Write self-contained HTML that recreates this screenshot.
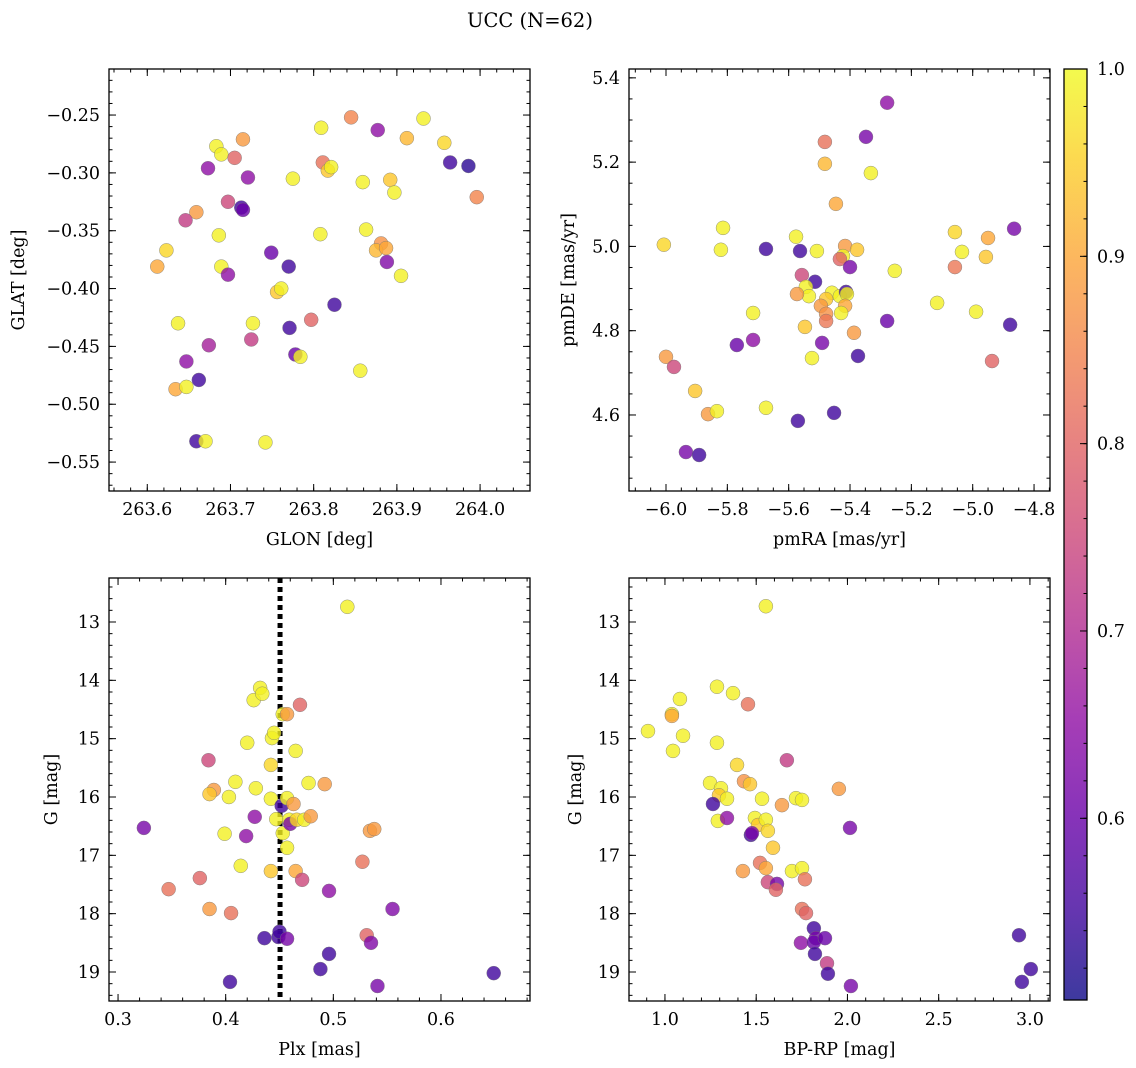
<!DOCTYPE html>
<html><head><meta charset="utf-8"><style>
html,body{margin:0;padding:0;background:#fff;}
svg{display:block;font-family:"DejaVu Serif","Liberation Serif",serif;}
</style></head><body>
<svg id="fig" width="1136" height="1068" xmlns="http://www.w3.org/2000/svg">
<text x="530" y="27" font-size="19.5" text-anchor="middle">UCC (N=62)</text>
</svg>
<script>
// Panel 1: GLON vs GLAT
const p1Lon=[263.845,263.809,263.877,263.912,263.932,263.957,263.964,263.986,263.996,263.683,263.689,263.715,263.705,263.673,263.721,263.713,263.715,263.697,263.659,263.646,263.686,263.623,263.612,263.689,263.697,263.811,263.817,263.821,263.775,263.859,263.892,263.897,263.808,263.863,263.881,263.875,263.887,263.888,263.905,263.749,263.770,263.756,263.761,263.825,263.797,263.637,263.727,263.771,263.725,263.674,263.778,263.784,263.647,263.856,263.662,263.634,263.647,263.659,263.670,263.742];
const p1Lat=[-0.252,-0.261,-0.263,-0.270,-0.253,-0.274,-0.291,-0.294,-0.321,-0.277,-0.284,-0.271,-0.287,-0.296,-0.304,-0.330,-0.332,-0.325,-0.334,-0.341,-0.354,-0.367,-0.381,-0.381,-0.388,-0.291,-0.298,-0.295,-0.305,-0.308,-0.306,-0.317,-0.353,-0.349,-0.361,-0.367,-0.365,-0.377,-0.389,-0.369,-0.381,-0.403,-0.400,-0.414,-0.427,-0.430,-0.430,-0.434,-0.444,-0.449,-0.457,-0.459,-0.463,-0.471,-0.479,-0.487,-0.485,-0.532,-0.532,-0.533];
const p1Prob=[0.85,0.99,0.65,0.92,0.99,0.96,0.55,0.53,0.85,0.99,0.99,0.88,0.8,0.65,0.65,0.55,0.6,0.75,0.88,0.73,0.99,0.96,0.9,0.99,0.65,0.82,0.94,0.99,0.99,0.99,0.94,0.99,0.99,0.99,0.87,0.92,0.9,0.63,0.99,0.6,0.55,0.94,0.99,0.55,0.8,0.99,0.99,0.55,0.73,0.68,0.6,0.99,0.65,0.99,0.55,0.9,0.99,0.55,0.99,0.99];
// Panel 2: pmRA vs pmDE
const p2RA=[-5.279,-5.348,-5.482,-5.482,-5.332,-5.446,-6.007,-5.814,-5.821,-5.674,-5.576,-5.563,-5.508,-5.416,-5.377,-5.423,-5.433,-5.400,-5.058,-4.950,-5.035,-4.957,-5.058,-4.865,-5.254,-5.557,-5.514,-5.544,-5.534,-5.573,-5.459,-5.433,-5.413,-5.410,-5.478,-5.495,-5.416,-5.478,-5.478,-5.429,-5.716,-5.716,-5.769,-5.547,-5.491,-5.524,-5.387,-5.374,-5.279,-5.116,-4.989,-4.878,-4.937,-6.000,-5.974,-5.905,-5.863,-5.834,-5.674,-5.452,-5.570,-5.935,-5.892];
const p2DE=[5.341,5.260,5.248,5.196,5.174,5.101,5.004,5.044,4.992,4.994,5.023,4.989,4.989,5.001,4.992,4.977,4.970,4.951,5.034,5.020,4.987,4.975,4.951,5.042,4.942,4.932,4.916,4.904,4.882,4.887,4.890,4.882,4.892,4.887,4.875,4.859,4.859,4.840,4.823,4.842,4.842,4.778,4.766,4.809,4.771,4.735,4.795,4.740,4.823,4.866,4.845,4.814,4.728,4.738,4.714,4.657,4.602,4.609,4.617,4.605,4.586,4.512,4.505];
const p2Prob=[0.65,0.62,0.82,0.92,0.99,0.9,0.96,0.99,0.99,0.55,0.99,0.55,0.99,0.88,0.94,0.99,0.8,0.62,0.96,0.9,0.99,0.94,0.83,0.62,0.99,0.75,0.55,0.99,0.99,0.88,0.99,0.99,0.55,0.99,0.94,0.88,0.9,0.87,0.83,0.99,0.99,0.65,0.6,0.94,0.62,0.99,0.88,0.55,0.6,0.99,0.99,0.55,0.8,0.88,0.75,0.94,0.88,0.99,0.99,0.55,0.55,0.62,0.55];
// Panel 3: Plx vs G
const p3Plx=[0.513,0.324,0.347,0.376,0.384,0.389,0.385,0.385,0.405,0.399,0.403,0.409,0.404,0.414,0.420,0.419,0.427,0.428,0.426,0.432,0.434,0.436,0.442,0.443,0.445,0.442,0.447,0.442,0.449,0.450,0.452,0.453,0.453,0.457,0.457,0.457,0.457,0.459,0.460,0.463,0.469,0.465,0.466,0.465,0.471,0.473,0.477,0.479,0.492,0.496,0.488,0.496,0.527,0.531,0.535,0.541,0.534,0.538,0.555,0.649];
const p3G=[12.74,16.53,17.58,17.39,15.37,15.88,15.95,17.92,17.99,16.63,16.00,15.74,19.17,17.18,15.07,16.67,16.34,15.85,14.34,14.13,14.23,18.42,15.45,14.99,14.90,16.03,16.38,17.27,18.40,18.31,16.15,14.58,16.62,14.58,16.02,16.87,18.43,16.39,16.46,16.12,14.42,15.21,16.39,17.27,17.42,16.39,15.76,16.33,15.78,17.61,18.95,18.69,17.11,18.37,18.50,19.24,16.58,16.55,17.92,19.02];
const p3Prob=[0.99,0.62,0.82,0.8,0.75,0.88,0.94,0.88,0.82,0.99,0.99,0.99,0.55,0.99,0.99,0.65,0.65,0.99,0.99,0.99,0.99,0.55,0.96,0.99,0.99,0.99,0.99,0.94,0.55,0.55,0.55,0.99,0.99,0.88,0.99,0.99,0.62,0.99,0.62,0.88,0.8,0.99,0.96,0.9,0.75,0.99,0.99,0.88,0.88,0.65,0.55,0.55,0.82,0.8,0.63,0.62,0.88,0.88,0.63,0.55];
const plxLine=0.4505;
// Panel 4: BP-RP vs G
const p4Col=[1.553,0.907,1.038,1.082,1.044,1.099,1.038,1.285,1.373,1.285,1.455,1.395,1.433,1.466,1.247,1.307,1.296,1.340,1.263,1.290,1.340,1.532,1.493,1.510,1.553,1.564,1.471,1.477,1.641,1.592,1.521,1.427,1.553,1.696,1.751,1.564,1.614,1.608,1.767,1.718,1.751,1.668,1.953,2.014,1.751,1.773,1.745,1.816,1.827,1.816,1.877,1.822,1.888,1.893,2.019,2.940,3.005,2.956];
const p4G=[12.73,14.87,14.58,14.32,15.21,14.95,14.61,14.11,14.22,15.07,14.41,15.45,15.73,15.78,15.76,15.85,15.97,16.03,16.12,16.41,16.36,16.03,16.36,16.48,16.39,16.58,16.65,16.62,16.14,16.87,17.13,17.27,17.22,17.27,17.22,17.46,17.49,17.59,17.41,16.02,16.05,15.37,15.86,16.53,17.92,17.99,18.50,18.25,18.42,18.49,18.42,18.69,18.85,19.03,19.24,18.37,18.95,19.17];
const p4Prob=[0.99,0.99,0.99,0.99,0.99,0.99,0.9,0.99,0.99,0.99,0.82,0.96,0.87,0.94,0.99,0.99,0.94,0.99,0.55,0.99,0.65,0.99,0.99,0.94,0.99,0.96,0.55,0.62,0.88,0.94,0.82,0.88,0.9,0.99,0.99,0.75,0.62,0.8,0.82,0.99,0.99,0.73,0.88,0.62,0.82,0.8,0.65,0.55,0.62,0.6,0.6,0.55,0.73,0.55,0.62,0.55,0.55,0.55];
const cbTicks=[0.6,0.7,0.8,0.9,1.0];

const NS="http://www.w3.org/2000/svg";
const svg=document.getElementById('fig');
const PL=["#0d0887","#41049d","#6a00a8","#8f0da4","#b12a90","#cc4778","#e16462","#f2844b","#fca636","#fcce25","#f0f921"];
const VMIN=0.503,VMAX=1.0;
function hex(h){return [1,3,5].map(i=>parseInt(h.substr(i,2),16));}
function plasma(t){t=Math.max(0,Math.min(1,t));const f=t*10,i=Math.min(9,Math.floor(f)),r=f-i;const a=hex(PL[i]),b=hex(PL[i+1]);return 'rgb('+a.map((v,k)=>Math.round(v+(b[k]-v)*r)).join(',')+')';}
function cmap(p){return plasma((p-VMIN)/(VMAX-VMIN));}
function mk(tag,attrs,parent){const e=document.createElementNS(NS,tag);for(const k in attrs)e.setAttribute(k,attrs[k]);(parent||svg).appendChild(e);return e;}
function fmt(v,d){let s=v.toFixed(d);return s.replace('-','\u2212');}
const FS=17.5;

function panel(o){
  const g=mk('g',{});
  
  
  const X=v=>o.x0+(v-o.xl[0])/(o.xl[1]-o.xl[0])*o.w;
  const Y=v=>o.y0+(v-o.yl[0])/(o.yl[1]-o.yl[0])*o.h;
  const ticks=(lo,hi,step)=>{const a=[];const s=Math.ceil(Math.min(lo,hi)/step-1e-6);for(let k=s;k*step<=Math.max(lo,hi)+1e-9;k++)a.push(+(k*step).toFixed(6));return a;};
  const tg=mk('g',{stroke:'#000','stroke-width':1},g);
  
  
  const xmaj=ticks(o.xl[0],o.xl[1],o.xs), xmin=ticks(o.xl[0],o.xl[1],o.xs/o.xd);
  const ymaj=ticks(o.yl[0],o.yl[1],o.ys), ymin=ticks(o.yl[0],o.yl[1],o.ys/o.yd);
  xmin.forEach(v=>{const x=X(v);mk('line',{x1:x,x2:x,y1:o.y0+o.h,y2:o.y0+o.h-3.5},tg);mk('line',{x1:x,x2:x,y1:o.y0,y2:o.y0+3.5},tg);});
  ymin.forEach(v=>{const y=Y(v);mk('line',{x1:o.x0,x2:o.x0+3.5,y1:y,y2:y},tg);mk('line',{x1:o.x0+o.w,x2:o.x0+o.w-3.5,y1:y,y2:y},tg);});
  xmaj.forEach(v=>{const x=X(v);mk('line',{x1:x,x2:x,y1:o.y0+o.h,y2:o.y0+o.h-7},tg);mk('line',{x1:x,x2:x,y1:o.y0,y2:o.y0+7},tg);
    const t=mk('text',{x:x,y:o.y0+o.h+24,'font-size':FS,'text-anchor':'middle',stroke:'none',fill:'#000'},g);t.textContent=fmt(v,o.xf);
    });
  ymaj.forEach(v=>{const y=Y(v);mk('line',{x1:o.x0,x2:o.x0+7,y1:y,y2:y},tg);mk('line',{x1:o.x0+o.w,x2:o.x0+o.w-7,y1:y,y2:y},tg);
    const t=mk('text',{x:o.x0-9,y:y+6,'font-size':FS,'text-anchor':'end',fill:'#000'},g);t.textContent=fmt(v,o.yf);
    });
  const xt=mk('text',{x:o.x0+o.w/2,y:o.y0+o.h+54,'font-size':FS,'text-anchor':'middle'},g);xt.textContent=o.xlab;
  
  const yt=mk('text',{x:0,y:0,'font-size':FS,'text-anchor':'middle',transform:'translate('+o.ylx+','+(o.y0+o.h/2)+') rotate(-90)'},g);yt.textContent=o.ylab;
  
  if(o.vline!==undefined){const l=mk('line',{x1:X(o.vline),x2:X(o.vline),y1:o.y0,y2:o.y0+o.h,stroke:'#000','stroke-width':5,'stroke-dasharray':'5,4'},g);
    }
  const pg=mk('g',{},g);
  
  
  for(let i=0;i<o.xv.length;i++){
    const c=mk('circle',{cx:X(o.xv[i]),cy:Y(o.yv[i]),r:7,fill:cmap(o.pv[i]),'fill-opacity':0.8,stroke:'#777','stroke-width':0.5,'stroke-opacity':0.8},pg);
    
    
  }
  const fr=mk('rect',{x:o.x0,y:o.y0,width:o.w,height:o.h,fill:'none',stroke:'#000','stroke-width':1.3},g);
  
}
panel({name:'glon-glat-panel',x0:109,y0:69,w:421,h:422,xl:[263.554,264.060],yl:[-0.2102,-0.575],xs:0.1,xd:5,ys:0.05,yd:5,xf:1,yf:2,xlab:'GLON [deg]',ylab:'GLAT [deg]',ylx:24,xv:p1Lon,yv:p1Lat,pv:p1Prob});
panel({name:'pm-panel',x0:629,y0:69,w:421,h:422,xl:[-6.1206,-4.748],yl:[5.421,4.4196],xs:0.2,xd:4,ys:0.2,yd:4,xf:1,yf:1,xlab:'pmRA [mas/yr]',ylab:'pmDE [mas/yr]',ylx:574,xv:p2RA,yv:p2DE,pv:p2Prob});
panel({name:'plx-g-panel',x0:109,y0:578,w:421,h:423,xl:[0.2916,0.6827],yl:[12.246,19.497],xs:0.1,xd:5,ys:1,yd:5,xf:1,yf:0,xlab:'Plx [mas]',ylab:'G [mag]',ylx:57,xv:p3Plx,yv:p3G,pv:p3Prob,vline:plxLine});
panel({name:'cmd-panel',x0:629,y0:578,w:421,h:423,xl:[0.803,3.110],yl:[12.246,19.497],xs:0.5,xd:5,ys:1,yd:5,xf:1,yf:0,xlab:'BP-RP [mag]',ylab:'G [mag]',ylx:581,xv:p4Col,yv:p4G,pv:p4Prob});

// colorbar
const cb=mk('g',{});


const cx0=1064,cy0=69,cw=23,ch=931;
const defs=mk('defs',{},cb);
const gr=mk('linearGradient',{id:'cbg',x1:0,y1:1,x2:0,y2:0},defs);
for(let i=0;i<=20;i++){mk('stop',{offset:i/20,'stop-color':plasma(i/20),'stop-opacity':0.8},gr);}
mk('rect',{x:cx0,y:cy0,width:cw,height:ch,fill:'url(#cbg)'},cb);
const CY=v=>cy0+(VMAX-v)/(VMAX-VMIN)*ch;
for(let v=0.52;v<=1.0001;v+=0.02){const y=CY(v);mk('line',{x1:cx0+cw,x2:cx0+cw-3.5,y1:y,y2:y,stroke:'#000'},cb);}
cbTicks.forEach(v=>{const y=CY(v);mk('line',{x1:cx0+cw,x2:cx0+cw-7,y1:y,y2:y,stroke:'#000'},cb);
  const t=mk('text',{x:cx0+cw+10,y:y+6,'font-size':FS,fill:'#000'},cb);t.textContent=v.toFixed(1);
  });
mk('rect',{x:cx0,y:cy0,width:cw,height:ch,fill:'none',stroke:'#000','stroke-width':1.3},cb);
</script>
</body></html>
